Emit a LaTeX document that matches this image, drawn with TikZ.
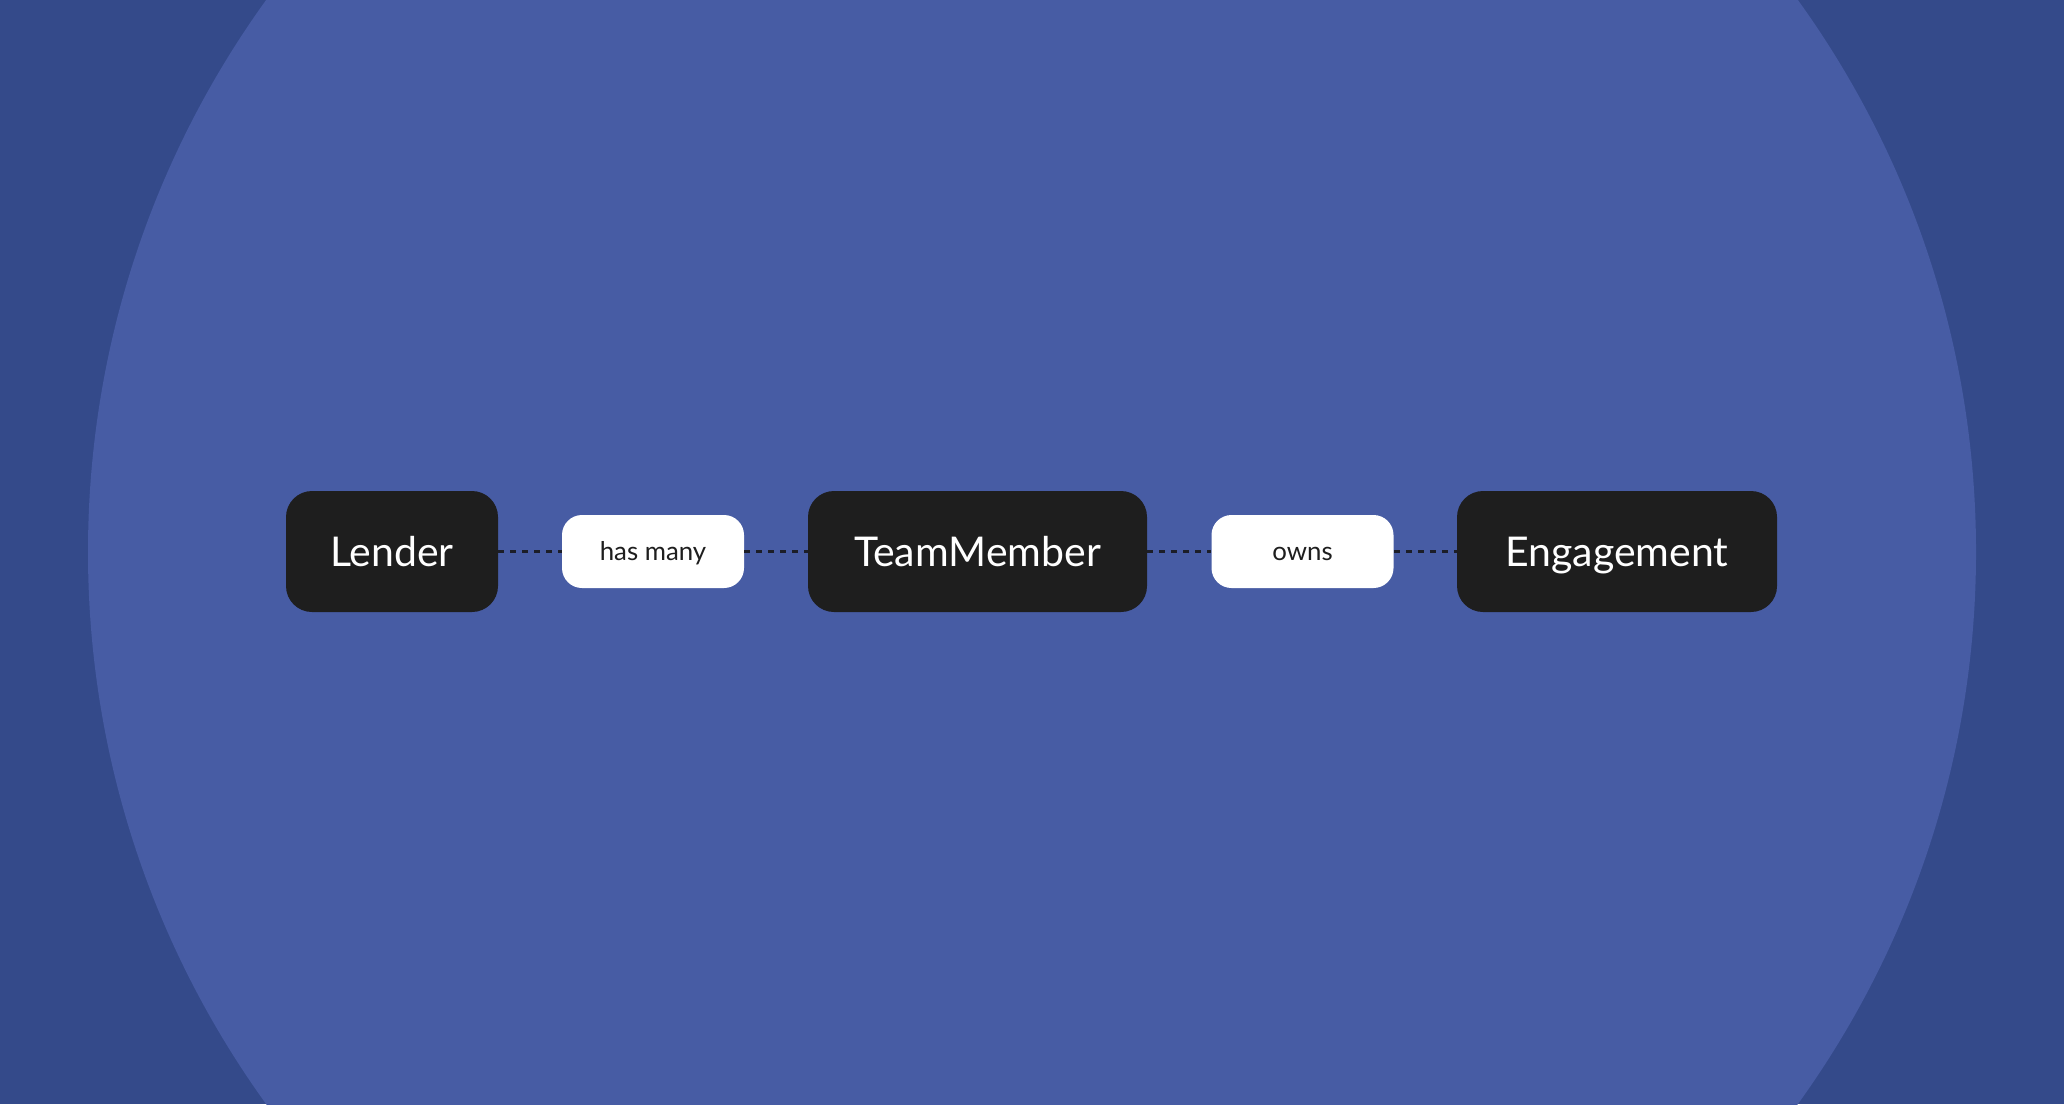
\documentclass[tikz,border=0pt]{standalone}
\usepackage{fontspec}
\setmainfont{Lato}
\definecolor{outerbg}{RGB}{52,74,138}
\definecolor{circbg}{RGB}{71,92,164}
\definecolor{boxblack}{RGB}{30,30,30}
\definecolor{linecol}{RGB}{28,30,40}
\begin{document}
\begin{tikzpicture}[x=0.5pt,y=-0.5pt,
  entity/.style={fill=boxblack, rounded corners=13pt, minimum height=60.5pt,
    text=white, font=\fontsize{20.5}{24}\selectfont, inner sep=0pt,
    text height=14.7pt, text depth=0pt},
  rel/.style={fill=white, rounded corners=10pt, minimum width=91pt, minimum height=36.5pt,
    text=boxblack, font=\fontsize{12.9}{15}\selectfont, inner sep=0pt,
    text height=9.3pt, text depth=0pt},
  link/.style={draw=linecol, line width=1.5pt, dash pattern=on 3pt off 3pt}]
\useasboundingbox (0,0) rectangle (2064,1104);
\fill[outerbg] (0,0) rectangle (2064,1104);
\begin{scope}
  \clip (0,0) rectangle (2064,1104);
  \fill[circbg] (1032,552) circle[radius=944];
\end{scope}
\node[entity, minimum width=106pt] (lender) at (392,551.5) {Lender};
\node[rel] (hasmany) at (653,551.5) {has many};
\node[entity, minimum width=169.5pt] (team) at (977.5,551.5) {TeamMember};
\node[rel] (owns) at (1302.5,551.5) {owns};
\node[entity, minimum width=160pt] (eng) at (1617,551.5) {Engagement};
\draw[link] (lender) -- (hasmany);
\draw[link] (hasmany) -- (team);
\draw[link] (team) -- (owns);
\draw[link] (owns) -- (eng);
\end{tikzpicture}
\end{document}
